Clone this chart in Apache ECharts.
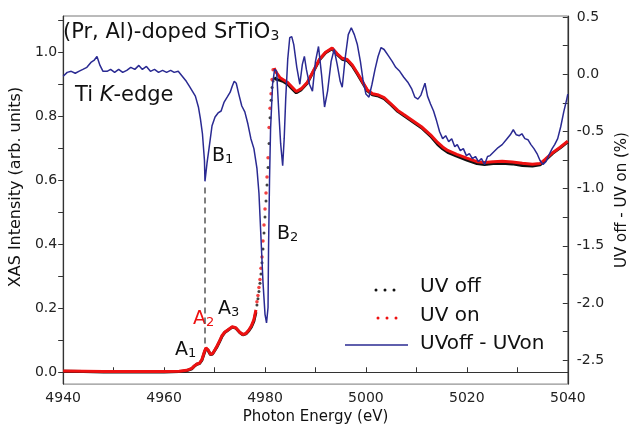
<!DOCTYPE html>
<html>
<head>
<meta charset="utf-8">
<script src="https://cdn.jsdelivr.net/npm/echarts@6/dist/echarts.min.js"></script>
<style>
  html, body { margin: 0; padding: 0; background: #fff; }
  #main { width: 638px; height: 430px; }
</style>
</head>
<body>
<div id="main"></div>
<script>
// photon energy (eV) of the XAS spectra
var energy = [4940, 4944, 4948, 4952, 4956, 4960, 4963, 4964.5, 4965.5, 4966, 4966.5, 4967, 4967.5, 4968, 4968.3, 4968.7, 4969.2, 4969.6, 4970, 4970.5, 4971, 4971.5, 4972, 4972.7, 4973.5, 4974.2, 4975, 4975.6, 4976.2, 4976.8, 4977.3, 4977.8, 4978.2,
  4978.4, 4978.6, 4978.8, 4979.0, 4979.2, 4979.4, 4979.6, 4979.8, 4980.0, 4980.2, 4980.4, 4980.6, 4980.8, 4981.0, 4981.2, 4981.4, 4981.6,
  4981.8, 4982.3, 4983, 4983.7, 4984.5, 4985.3, 4986.2, 4987.2, 4988.4, 4989.6, 4990.8, 4992, 4993.3, 4994.3, 4995.3, 4996.3, 4997.3, 4998.3, 4999.3, 5000.3, 5001.3, 5002.5, 5003.6, 5005, 5006.3, 5007.5, 5009, 5011, 5012.8, 5014.2, 5015.2, 5016.2, 5018, 5020, 5022, 5023.5, 5025.2, 5027, 5029, 5031, 5033, 5034.5, 5035.5, 5037, 5038.5, 5040];
var uvOff = [0.003, 0.002, 0.001, 0.001, 0.001, 0.001, 0.002, 0.005, 0.011, 0.019, 0.025, 0.027, 0.038, 0.062, 0.074, 0.069, 0.055, 0.057, 0.067, 0.08, 0.096, 0.113, 0.124, 0.132, 0.141, 0.138, 0.124, 0.117, 0.12, 0.13, 0.142, 0.16, 0.188,
  0.21, 0.23, 0.252, 0.278, 0.307, 0.342, 0.385, 0.435, 0.485, 0.535, 0.585, 0.64, 0.715, 0.795, 0.85, 0.89, 0.91,
  0.92, 0.915, 0.912, 0.908, 0.9, 0.887, 0.873, 0.883, 0.904, 0.94, 0.976, 0.998, 1.011, 0.993, 0.978, 0.974, 0.957, 0.932, 0.905, 0.879, 0.867, 0.863, 0.855, 0.835, 0.815, 0.802, 0.786, 0.764, 0.738, 0.712, 0.698, 0.687, 0.675, 0.663, 0.652, 0.649, 0.652, 0.653, 0.651, 0.646, 0.644, 0.648, 0.662, 0.684, 0.701, 0.72];
var uvOn = [0.004, 0.003, 0.002, 0.002, 0.002, 0.002, 0.003, 0.006, 0.012, 0.02, 0.026, 0.028, 0.04, 0.065, 0.076, 0.07, 0.056, 0.058, 0.068, 0.082, 0.098, 0.115, 0.125, 0.133, 0.142, 0.139, 0.125, 0.118, 0.121, 0.132, 0.145, 0.165, 0.195,
  0.22, 0.24, 0.265, 0.29, 0.325, 0.36, 0.41, 0.46, 0.51, 0.56, 0.61, 0.67, 0.765, 0.825, 0.87, 0.915, 0.945,
  0.95, 0.935, 0.92, 0.913, 0.905, 0.892, 0.877, 0.886, 0.906, 0.942, 0.978, 1.0, 1.013, 0.995, 0.981, 0.977, 0.96, 0.935, 0.908, 0.882, 0.87, 0.866, 0.858, 0.838, 0.818, 0.805, 0.789, 0.767, 0.742, 0.718, 0.704, 0.693, 0.681, 0.669, 0.658, 0.655, 0.658, 0.659, 0.657, 0.653, 0.65, 0.652, 0.665, 0.686, 0.703, 0.722];
// steep edge: points shown as separate dots there
var edgeLo = 4978.3, edgeHi = 4981.7;

// UVoff - UVon difference (%), right axis
var diffEnergy = [4940.0, 4940.8, 4941.6, 4942.4, 4943.1, 4943.9, 4944.7, 4945.5, 4946.1, 4946.7, 4947.3, 4947.9, 4948.7, 4949.4, 4950.2, 4951.0, 4951.8, 4952.6, 4953.4, 4954.2, 4955.0, 4955.7, 4956.5, 4957.3, 4958.1, 4958.9, 4959.7, 4960.5, 4961.3, 4962.0, 4962.8, 4963.6, 4964.4, 4965.0, 4965.6, 4966.2, 4966.8, 4967.2, 4967.6, 4968.0, 4968.1, 4968.5, 4968.9, 4969.5, 4970.1, 4970.7, 4971.3, 4971.9, 4972.5, 4973.1, 4973.5, 4973.9, 4974.3, 4974.8, 4975.4, 4976.0, 4976.6, 4977.2, 4977.8, 4978.4, 4978.8, 4979.2, 4979.6, 4980.0, 4980.3, 4980.6, 4980.7, 4980.9, 4981.1, 4981.5, 4981.9, 4982.3, 4982.7, 4983.1, 4983.5, 4983.8, 4984.1, 4984.5, 4984.9, 4985.3, 4985.7, 4986.3, 4986.9, 4987.4, 4987.8, 4988.2, 4988.8, 4989.4, 4990.0, 4990.6, 4991.2, 4991.8, 4992.4, 4993.1, 4993.7, 4994.3, 4994.9, 4995.3, 4995.9, 4996.5, 4997.1, 4997.7, 4998.3, 4998.9, 4999.4, 5000.0, 5000.6, 5001.2, 5001.8, 5002.4, 5003.0, 5003.6, 5004.4, 5005.2, 5005.9, 5006.7, 5007.5, 5008.3, 5009.1, 5009.7, 5010.3, 5010.9, 5011.7, 5012.2, 5012.8, 5013.4, 5014.0, 5014.6, 5015.2, 5015.8, 5016.4, 5017.0, 5017.6, 5018.1, 5018.7, 5019.3, 5019.9, 5020.5, 5021.1, 5021.7, 5022.3, 5022.9, 5023.5, 5024.1, 5024.6, 5025.4, 5026.2, 5027.0, 5027.8, 5028.6, 5029.2, 5029.8, 5030.4, 5030.9, 5031.5, 5032.1, 5032.7, 5033.3, 5033.9, 5034.5, 5035.1, 5035.7, 5036.3, 5036.9, 5037.4, 5038.0, 5038.6, 5039.2, 5039.8, 5040.0];
var diffVal = [-0.017, 0.017, 0.026, 0.009, 0.026, 0.043, 0.061, 0.104, 0.121, 0.156, 0.078, 0.026, 0.026, 0.043, 0.017, 0.043, 0.017, 0.035, 0.061, 0.043, 0.078, 0.043, 0.069, 0.026, 0.043, 0.017, 0.035, 0.017, 0.035, 0.017, 0.026, -0.017, -0.061, -0.104, -0.147, -0.191, -0.286, -0.39, -0.52, -0.754, -0.936, -0.78, -0.65, -0.45, -0.373, -0.338, -0.321, -0.243, -0.2, -0.156, -0.104, -0.061, -0.078, -0.173, -0.277, -0.329, -0.433, -0.563, -0.65, -0.823, -1.04, -1.43, -1.82, -2.1, -2.175, -2.04, -1.52, -0.91, -0.48, -0.087, 0.043, 0.026, -0.303, -0.607, -0.8, -0.563, -0.217, 0.13, 0.32, 0.33, 0.26, 0.061, -0.087, 0.087, 0.156, 0.043, -0.087, -0.147, 0.113, 0.243, 0, -0.286, -0.147, 0.113, 0.217, 0.087, -0.061, -0.113, 0.147, 0.347, 0.407, 0.347, 0.26, 0.113, -0.043, -0.173, -0.2, -0.087, 0.043, 0.156, 0.234, 0.217, 0.165, 0.113, 0.061, 0.026, -0.026, -0.069, -0.13, -0.2, -0.217, -0.182, -0.078, -0.191, -0.26, -0.321, -0.407, -0.503, -0.563, -0.537, -0.589, -0.563, -0.633, -0.615, -0.667, -0.65, -0.711, -0.693, -0.737, -0.719, -0.763, -0.737, -0.789, -0.719, -0.711, -0.676, -0.641, -0.615, -0.572, -0.529, -0.485, -0.529, -0.537, -0.52, -0.563, -0.572, -0.615, -0.65, -0.693, -0.754, -0.789, -0.763, -0.702, -0.65, -0.615, -0.563, -0.459, -0.329, -0.217, -0.173];

// ticks and labels
var xTicks = [4940, 4950, 4960, 4970, 4980, 4990, 5000, 5010, 5020, 5030, 5040];
var xLabels = [4940, 4960, 4980, 5000, 5020, 5040];
var leftTicks = [0, 0.1, 0.2, 0.3, 0.4, 0.5, 0.6, 0.7, 0.8, 0.9, 1.0, 1.1];
var leftLabels = [0, 0.2, 0.4, 0.6, 0.8, 1.0];
var rightTicks = [-2.5, -2.25, -2, -1.75, -1.5, -1.25, -1, -0.75, -0.5, -0.25, 0, 0.25, 0.5];
var rightLabels = [-2.5, -2, -1.5, -1, -0.5, 0, 0.5];

// dashed guide B1 -> A2
var dashE = 4968.1, dashLo = 0.09, dashHi = 0.58;

var FONT = 'DejaVu Sans';

function lineData(vals) {
  return energy.map(function (e, i) {
    return (e > edgeLo && e < edgeHi) ? [e, '-'] : [e, vals[i]];
  });
}
function dotData(vals) {
  var out = [];
  energy.forEach(function (e, i) {
    if (e > edgeLo && e < edgeHi) out.push([e, vals[i]]);
  });
  return out;
}
function sub(main, idx, x, y, color) {
  return { type: 'text', left: x, top: y, style: { text: '{a|' + main + '}{s|' + idx + '}',
    rich: { a: { fontFamily: FONT, fontSize: 19, lineHeight: 22, fill: color, verticalAlign: 'bottom' },
            s: { fontFamily: FONT, fontSize: 13, lineHeight: 12, fill: color, verticalAlign: 'bottom' } } } };
}

var myChart = echarts.init(document.getElementById('main'));

var axisCommon = {
  axisLine: { show: true, lineStyle: { color: '#333', width: 1.2 } },
  splitLine: { show: false }
};

myChart.setOption({
  animation: false,
  backgroundColor: '#fff',
  grid: { left: 60, right: 69, top: 16, bottom: 43, show: true, borderColor: '#777', borderWidth: 1 },
  xAxis: Object.assign({}, axisCommon, {
    type: 'value', min: 4940, max: 5040,
    name: 'Photon Energy (eV)', nameLocation: 'middle', nameGap: 17,
    nameTextStyle: { fontFamily: FONT, fontSize: 15, color: '#111' },
    axisTick: { inside: true, length: 5, customValues: xTicks, lineStyle: { color: '#333' } },
    axisLabel: { customValues: xLabels, margin: 7, fontFamily: FONT, fontSize: 14, color: '#222',
      formatter: function (v) { return String(v); } }
  }),
  yAxis: [
    Object.assign({}, axisCommon, {
      type: 'value', position: 'left', min: -0.037, max: 1.113,
      name: 'XAS Intensity (arb. units)', nameLocation: 'middle', nameGap: 31, nameRotate: 90,
      nameTextStyle: { fontFamily: FONT, fontSize: 16, color: '#111', padding: [0, 0, 0, 26] },
      axisTick: { inside: false, length: 5, customValues: leftTicks, lineStyle: { color: '#333' } },
      axisLabel: { customValues: leftLabels, margin: 6, fontFamily: FONT, fontSize: 14, color: '#222',
        formatter: function (v) { return v.toFixed(1); } }
    }),
    Object.assign({}, axisCommon, {
      type: 'value', position: 'right', min: -2.71, max: 0.51,
      name: 'UV off - UV on (%)', nameLocation: 'middle', nameGap: 45, nameRotate: 90,
      nameTextStyle: { fontFamily: FONT, fontSize: 15, color: '#111' },
      axisTick: { inside: true, length: 5, customValues: rightTicks, lineStyle: { color: '#333' } },
      axisLabel: { customValues: rightLabels, margin: 9, fontFamily: FONT, fontSize: 14, color: '#222',
        formatter: function (v) { return v.toFixed(1); } }
    })
  ],
  series: [
    {
      name: 'UV off', type: 'line', yAxisIndex: 0, showSymbol: false, connectNulls: false,
      data: lineData(uvOff), lineStyle: { color: '#111', width: 3 }, z: 2,
      markLine: {
        silent: true, symbol: ['none', 'none'], label: { show: false },
        lineStyle: { type: [6, 4], color: '#555', width: 1.5 },
        data: [[{ coord: [dashE, dashLo] }, { coord: [dashE, dashHi] }]]
      }
    },
    {
      name: 'UV on', type: 'line', yAxisIndex: 0, showSymbol: false, connectNulls: false,
      data: lineData(uvOn), lineStyle: { color: '#ee1111', width: 3 }, z: 3
    },
    {
      name: 'UV off edge', type: 'scatter', yAxisIndex: 0, symbolSize: 3,
      data: dotData(uvOff), itemStyle: { color: '#111' }, z: 3
    },
    {
      name: 'UV on edge', type: 'scatter', yAxisIndex: 0, symbolSize: 3.5,
      data: dotData(uvOn), itemStyle: { color: '#ee1111' }, z: 3
    },
    {
      name: 'UVoff - UVon', type: 'line', yAxisIndex: 1, showSymbol: false,
      data: diffEnergy.map(function (e, i) { return [e, diffVal[i]]; }),
      lineStyle: { color: '#2a2a92', width: 1.5 }, z: 4
    }
  ],
  graphic: [
    { type: 'text', left: 63, top: 22, style: { text: '{a|(Pr, Al)-doped SrTiO}{s|3}',
      rich: { a: { fontFamily: FONT, fontSize: 21, lineHeight: 24, fill: '#111', verticalAlign: 'bottom' },
              s: { fontFamily: FONT, fontSize: 14, lineHeight: 14, fill: '#111', verticalAlign: 'bottom' } } } },
    { type: 'text', left: 75, top: 85, style: { text: '{a|Ti }{i|K}{a|-edge}',
      rich: { a: { fontFamily: FONT, fontSize: 21, fill: '#111' },
              i: { fontFamily: FONT, fontSize: 21, fontStyle: 'italic', fill: '#111' } } } },
    sub('B', '1', 212, 147, '#111'),
    sub('B', '2', 277, 225, '#111'),
    sub('A', '1', 175, 341, '#111'),
    sub('A', '2', 193, 310, '#ee1111'),
    sub('A', '3', 218, 300, '#111'),
    // legend
    { type: 'circle', shape: { cx: 376, cy: 290, r: 1.5 }, style: { fill: '#111' } },
    { type: 'circle', shape: { cx: 385, cy: 290, r: 1.5 }, style: { fill: '#111' } },
    { type: 'circle', shape: { cx: 394, cy: 290, r: 1.5 }, style: { fill: '#111' } },
    { type: 'circle', shape: { cx: 378, cy: 318, r: 1.5 }, style: { fill: '#ee1111' } },
    { type: 'circle', shape: { cx: 387, cy: 318, r: 1.5 }, style: { fill: '#ee1111' } },
    { type: 'circle', shape: { cx: 396, cy: 318, r: 1.5 }, style: { fill: '#ee1111' } },
    { type: 'line', shape: { x1: 345, y1: 345, x2: 408, y2: 345 }, style: { stroke: '#2a2a92', lineWidth: 1.5 } },
    { type: 'text', left: 420, top: 277, style: { text: 'UV off', fontFamily: FONT, fontSize: 20, fill: '#111' } },
    { type: 'text', left: 420, top: 306, style: { text: 'UV on', fontFamily: FONT, fontSize: 20, fill: '#111' } },
    { type: 'text', left: 420, top: 334, style: { text: 'UVoff - UVon', fontFamily: FONT, fontSize: 20, fill: '#111' } }
  ]
});
</script>
</body>
</html>
